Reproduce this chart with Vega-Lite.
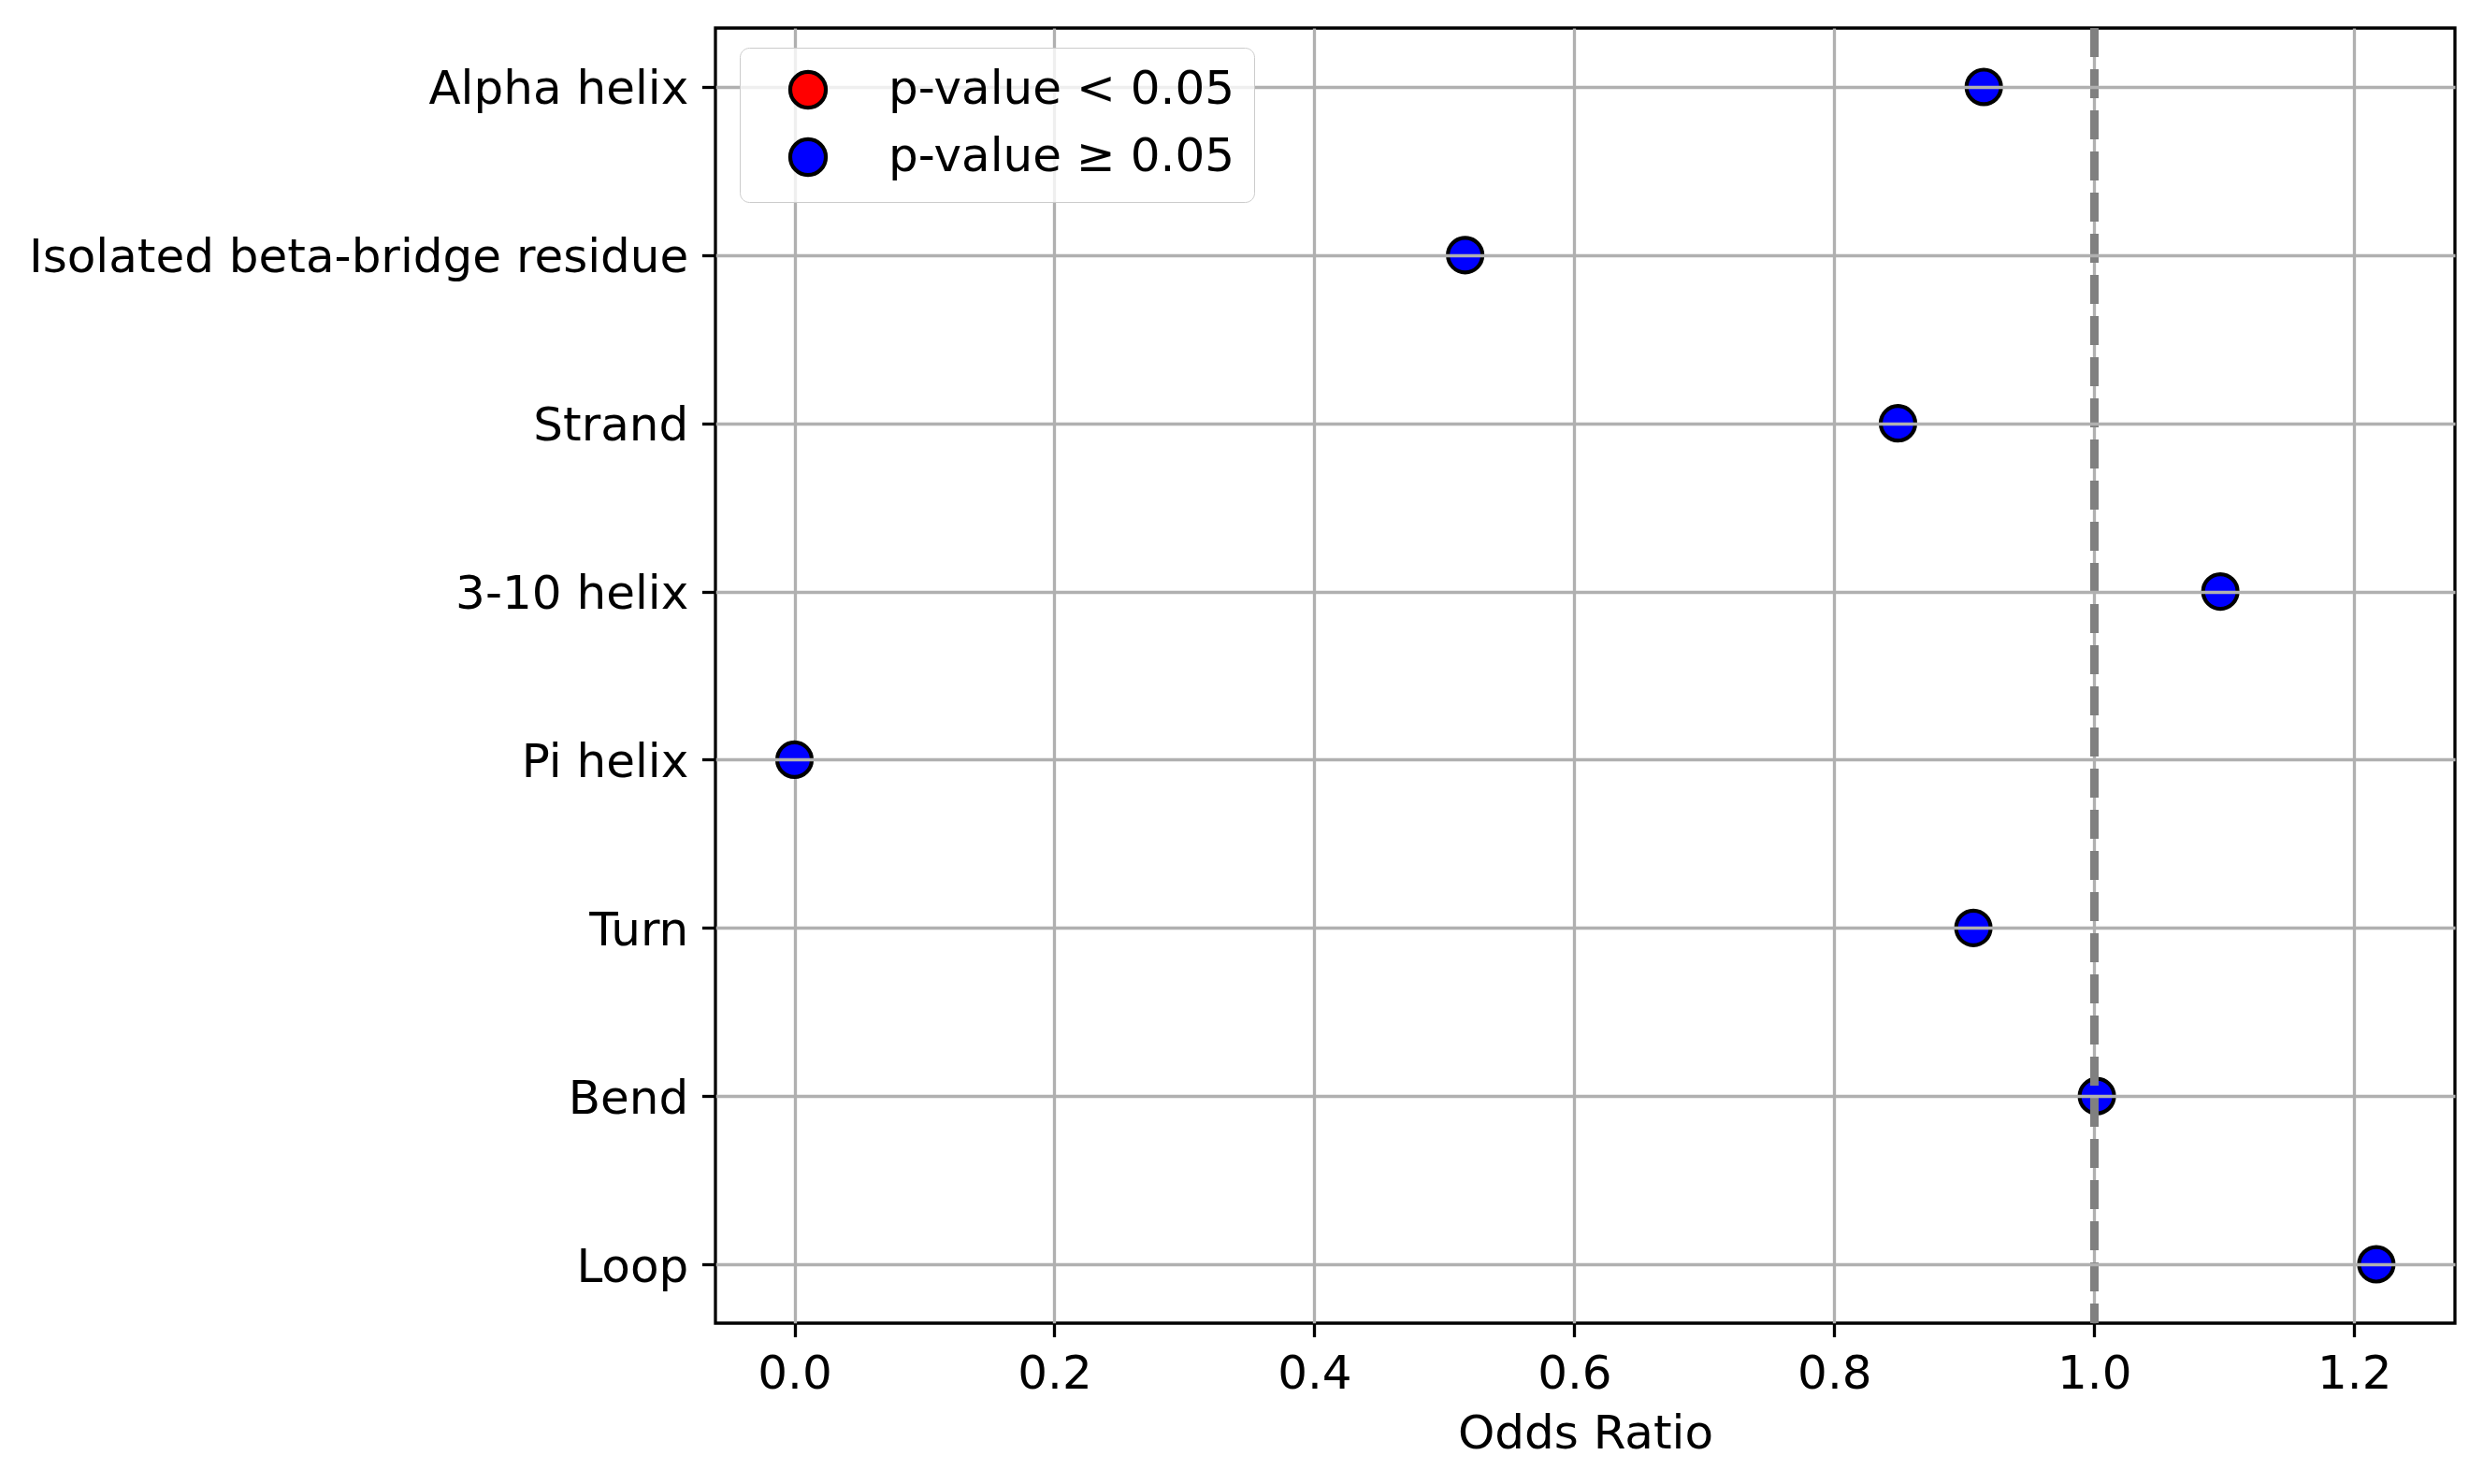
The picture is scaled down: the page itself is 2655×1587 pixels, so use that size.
{
  "$schema": "https://vega.github.io/schema/vega-lite/v6.json",
  "autosize": {"type": "none"},
  "padding": {"left": 765, "top": 30, "right": 30, "bottom": 172},
  "width": 1860,
  "height": 1385,
  "background": "white",
  "config": {
    "font": "DejaVu Sans",
    "view": {"stroke": "black", "strokeWidth": 3.3},
    "axis": {
      "labelFont": "DejaVu Sans",
      "labelFontSize": 50,
      "labelColor": "black",
      "labelLimit": 0,
      "titleFont": "DejaVu Sans",
      "titleFontSize": 50,
      "titleFontWeight": "normal",
      "titleColor": "black",
      "tickColor": "black",
      "tickWidth": 3.3,
      "tickSize": 14.6,
      "labelPadding": 14.6,
      "domain": false,
      "grid": true,
      "gridColor": "#b0b0b0",
      "gridWidth": 3.3
    },
    "legend": {
      "labelFont": "DejaVu Sans",
      "labelFontSize": 50,
      "labelColor": "black",
      "labelLimit": 0
    }
  },
  "data": {
    "values": [
      {"feature": "Alpha helix", "odds_ratio": 0.915, "significance": "p-value ≥ 0.05"},
      {"feature": "Isolated beta-bridge residue", "odds_ratio": 0.516, "significance": "p-value ≥ 0.05"},
      {"feature": "Strand", "odds_ratio": 0.849, "significance": "p-value ≥ 0.05"},
      {"feature": "3-10 helix", "odds_ratio": 1.097, "significance": "p-value ≥ 0.05"},
      {"feature": "Pi helix", "odds_ratio": 0.0, "significance": "p-value ≥ 0.05"},
      {"feature": "Turn", "odds_ratio": 0.907, "significance": "p-value ≥ 0.05"},
      {"feature": "Bend", "odds_ratio": 1.002, "significance": "p-value ≥ 0.05"},
      {"feature": "Loop", "odds_ratio": 1.217, "significance": "p-value ≥ 0.05"}
    ]
  },
  "layer": [
    {
      "mark": {"type": "circle", "size": 1365, "stroke": "black", "strokeWidth": 4.2, "opacity": 1},
      "encoding": {
        "x": {
          "field": "odds_ratio",
          "type": "quantitative",
          "scale": {"domain": [-0.0608, 1.2775], "nice": false, "zero": false},
          "axis": {
            "title": "Odds Ratio",
            "values": [0, 0.2, 0.4, 0.6, 0.8, 1.0, 1.2],
            "format": ".1f",
            "zindex": 0,
            "titleBaseline": "alphabetic",
            "titleY": 133
          }
        },
        "y": {
          "field": "feature",
          "type": "nominal",
          "sort": null,
          "scale": {"type": "point", "padding": 0.35},
          "axis": {"title": null, "zindex": 1, "labelOffset": 3}
        },
        "color": {
          "field": "significance",
          "type": "nominal",
          "scale": {"domain": ["p-value < 0.05", "p-value ≥ 0.05"], "range": ["#ff0000", "#0000ff"]},
          "legend": {
            "title": null,
            "orient": "none",
            "legendX": 26,
            "legendY": 21,
            "zindex": 2,
            "padding": 20,
            "symbolOffset": 28,
            "labelOffset": 61,
            "rowPadding": 16,
            "symbolType": "circle",
            "symbolSize": 1450,
            "symbolStrokeColor": "black",
            "symbolStrokeWidth": 4.2,
            "symbolOpacity": 1,
            "labelLimit": 0,
            "fillColor": "rgba(255,255,255,0.8)",
            "strokeColor": "#cccccc",
            "cornerRadius": 10
          }
        }
      }
    },
    {
      "mark": {"type": "rule", "color": "#808080", "strokeWidth": 8.3, "strokeDash": [31, 13]},
      "encoding": {"x": {"datum": 1}}
    }
  ]
}
